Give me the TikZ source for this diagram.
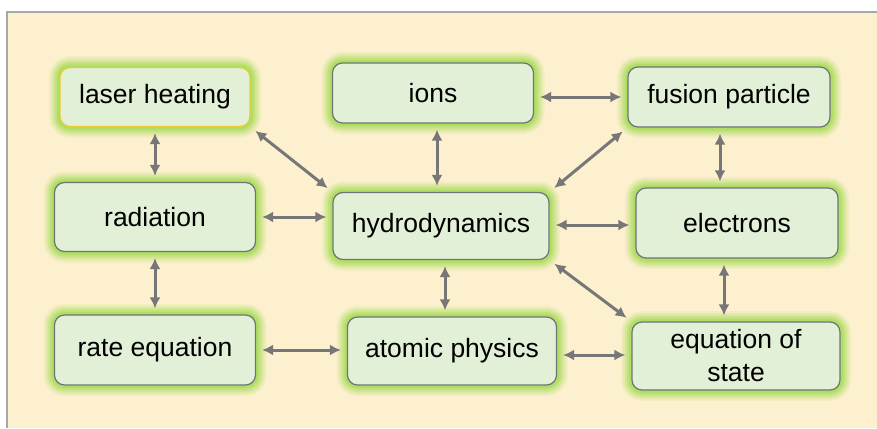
\documentclass[tikz,border=0pt]{standalone}
\usepackage{fontspec}
\setmainfont{Liberation Sans}
\usepackage{tikz}
\usetikzlibrary{calc,arrows.meta}

\definecolor{cream}{HTML}{FDF0CF}
\definecolor{boxfill}{HTML}{E3F0D8}
\definecolor{boxline}{HTML}{6E7378}
\definecolor{glow}{HTML}{A2DC50}
\definecolor{linkgray}{HTML}{777777}
\definecolor{framegray}{HTML}{A3A8AD}

\begin{document}
\begin{tikzpicture}[x=1pt,y=-1pt,>=Latex,
  box/.style={rounded corners=10pt,fill=boxfill,draw=boxline,line width=1.2pt,
    preaction={draw=glow,line width=22pt,opacity=0.12},
    preaction={draw=glow,line width=18pt,opacity=0.18},
    preaction={draw=glow,line width=14pt,opacity=0.25},
    preaction={draw=glow,line width=10pt,opacity=0.35},
    preaction={draw=glow,line width=6pt,opacity=0.5},
    align=center,inner sep=2pt,
    font=\fontsize{26.5}{33}\selectfont},
  link/.style={<->,linkgray,line width=3pt,shorten <=6pt,shorten >=6pt,
    >={Latex[length=11pt,width=11pt]}}]
  \useasboundingbox (0,0) rectangle (877,428);
  % background panel
  \fill[cream] (7,12) rectangle (877,428);
  \draw[framegray,line width=1.5pt] (7,428) -- (7,12) -- (877,12);
  % boxes, left column
  \node[box,draw=yellow!60!brown,minimum width=190pt,minimum height=59pt] (laser) at (155,97) {laser heating};
  \node[box,minimum width=201pt,minimum height=69pt] (radiation) at (155,217) {radiation};
  \node[box,minimum width=201pt,minimum height=70pt] (rate) at (155,350) {rate equation};
  % middle column
  \node[box,minimum width=201pt,minimum height=60pt] (ions) at (433,93) {ions};
  \node[box,minimum width=216pt,minimum height=67pt] (hydro) at (441,226) {hydrodynamics};
  \node[box,minimum width=209pt,minimum height=68pt] (atomic) at (452,351) {atomic physics};
  % right column
  \node[box,minimum width=202pt,minimum height=60pt] (fusion) at (729,97) {fusion particle};
  \node[box,minimum width=202pt,minimum height=70pt] (electrons) at (737,223) {electrons};
  \node[box,minimum width=208pt,minimum height=68pt] (eos) at (736,356) {equation of\\state};
  % vertical links
  \draw[link] (laser.south) -- (radiation.north);
  \draw[link] (radiation.south) -- (rate.north);
  \draw[link] ($(ions.south)+(4,0)$) -- ($(ions.south |- hydro.north)+(4,0)$);
  \draw[link] ($(hydro.south)+(4,0)$) -- ($(hydro.south |- atomic.north)+(4,0)$);
  \draw[link] ($(fusion.south)+(-9,0)$) -- ($(fusion.south |- electrons.north)+(-9,0)$);
  \draw[link] ($(electrons.south)+(-13,0)$) -- ($(electrons.south |- eos.north)+(-13,0)$);
  % horizontal links
  \draw[link] ($(ions.east |- fusion)$) -- (fusion.west);
  \draw[link] (radiation.east) -- ($(hydro.west |- radiation)$);
  \draw[link] ($(hydro.east)+(0,-1)$) -- ($(electrons.west |- hydro)+(0,-1)$);
  \draw[link] (rate.east) -- ($(atomic.west |- rate)$);
  \draw[link] ($(atomic.east)+(0,4)$) -- ($(eos.west |- atomic)+(0,4)$);
  % diagonal links
  \draw[link] (laser.south east) -- (hydro.north west);
  \draw[link] (fusion.south west) -- (hydro.north east);
  \draw[link] (hydro.south east) -- (eos.north west);
\end{tikzpicture}
\end{document}
